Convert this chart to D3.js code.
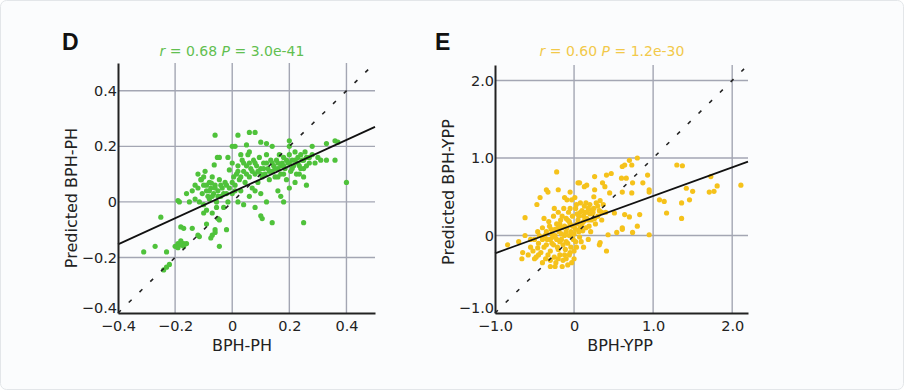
<!DOCTYPE html>
<html>
<head>
<meta charset="utf-8">
<script src="https://cdn.jsdelivr.net/npm/d3@7"></script>
<style>
  body { margin: 0; background: #fff; }
  svg { display: block; font-family: "DejaVu Sans", Arial, sans-serif; }
</style>
</head>
<body>
<div id="chart"></div>
<script>
// panel D: observed vs predicted BPH-PH
var phPoints = [
  [-0.31,-0.18],[-0.27,-0.16],[-0.23,-0.18],[-0.25,-0.055],[-0.23,-0.235],[-0.24,-0.245],[-0.22,-0.225],
  [-0.20,-0.16],[-0.19,-0.15],[-0.19,-0.165],[-0.18,-0.155],[-0.17,-0.15],[-0.16,-0.15],
  [-0.18,-0.09],[-0.17,-0.095],[-0.14,-0.095],[-0.12,-0.12],[-0.115,-0.125],[-0.09,-0.08],[-0.06,-0.1],
  [-0.045,-0.16],[-0.02,-0.1],[-0.05,-0.06],[-0.1,-0.04],[-0.115,0.0],[-0.15,0.0],[-0.185,0.0],[-0.19,0.005],
  [-0.08,0.01],[-0.055,-0.02],[-0.045,-0.065],[-0.06,-0.11],[-0.07,-0.12],[-0.075,-0.13],
  [-0.16,0.03],[-0.14,0.04],[-0.13,0.06],[-0.12,0.05],[-0.11,0.08],[-0.105,0.03],[-0.1,0.06],[-0.09,0.04],
  [-0.085,0.02],[-0.08,0.07],[-0.075,0.05],[-0.07,0.09],[-0.065,0.03],[-0.06,0.06],[-0.055,0.0],[-0.05,0.04],
  [-0.045,0.08],[-0.04,0.02],[-0.035,0.05],[-0.03,-0.02],[-0.025,0.07],[-0.02,0.03],[-0.015,0.0],[-0.01,0.05],
  [-0.1,-0.01],[-0.13,0.01],[-0.09,-0.03],[-0.07,-0.04],[-0.12,0.1],[-0.095,0.11],[-0.108,0.08],[-0.073,0.068],
  [-0.063,0.133],[-0.052,0.16],[-0.045,0.16],[-0.015,0.16],[-0.01,0.115],
  [-0.06,0.24],[0.02,0.24],[0.06,0.25],[0.08,0.25],[0.0,0.2],[0.01,0.2],[0.05,0.205],[0.2,0.22],[0.2,0.2],
  [0.28,0.2],[0.33,0.21],[0.36,0.22],[0.37,0.215],[0.12,0.21],[0.14,0.2],[0.1,0.215],
  [0.0,0.03],[0.01,0.06],[0.015,0.1],[0.02,0.13],[0.025,0.08],[0.03,0.04],[0.035,0.15],[0.04,0.11],
  [0.045,0.07],[0.05,0.13],[0.055,0.17],[0.06,0.09],[0.065,0.12],[0.07,0.05],[0.075,0.15],[0.08,0.1],
  [0.085,0.13],[0.09,0.07],[0.095,0.16],[0.1,0.12],[0.105,0.09],[0.11,0.14],[0.115,0.1],[0.12,0.17],
  [0.125,0.12],[0.13,0.08],[0.135,0.15],[0.14,0.11],[0.145,0.13],[0.15,0.09],[0.0,0.14],[0.005,0.09],
  [0.03,0.17],[0.06,0.18],[0.02,0.0],[0.04,-0.01],[0.06,0.02],[0.08,0.04],[0.1,0.03],[0.12,0.0],
  [0.155,0.15],[0.16,0.12],[0.165,0.17],[0.17,0.1],[0.175,0.14],[0.18,0.16],[0.185,0.12],[0.19,0.08],
  [0.195,0.14],[0.2,0.17],[0.205,0.11],[0.21,0.15],[0.215,0.13],[0.22,0.18],[0.225,0.1],[0.23,0.16],
  [0.235,0.13],[0.24,0.17],[0.245,0.15],[0.25,0.12],[0.255,0.18],[0.26,0.16],[0.27,0.14],[0.28,0.17],
  [0.29,0.14],[0.3,0.16],[0.31,0.15],[0.33,0.15],[0.36,0.15],[0.22,0.07],[0.235,0.1],[0.25,0.09],
  [0.26,0.06],[0.2,0.05],[0.18,0.0],[0.17,0.02],
  [0.4,0.07],[0.25,-0.075],[0.14,-0.075],[0.105,-0.06],[0.16,0.04],[0.08,-0.02],[0.1,-0.05],
  [0.02,0.11],[0.03,0.09],[0.04,0.14],[0.05,0.1],[0.06,0.14],[0.07,0.11],[0.08,0.14],[0.09,0.11],
  [0.1,0.1],[0.11,0.12],[0.12,0.14],[0.13,0.11],[0.14,0.14],[0.15,0.12],[0.16,0.14],[0.17,0.13],
  [0.18,0.13],[0.19,0.15],[0.2,0.14],[0.21,0.12],[0.22,0.15],[0.23,0.14],[0.24,0.12],[0.25,0.15],
  [0.26,0.13],[0.27,0.16],[-0.08,0.04],[-0.07,0.02],[-0.06,0.05],[-0.05,0.02],[-0.04,0.06],[-0.03,0.03],
  [-0.02,0.06],[-0.09,0.06],[-0.1,0.09],[-0.17,-0.16],[-0.18,-0.14],[0.01,0.04],[0.0,0.07],[0.16,0.09],[0.18,0.1]
];

// panel E: observed vs predicted BPH-YPP
var yppPoints = [
  [-0.84,-0.12],[-0.62,0.23],[-0.22,0.82],[-0.47,0.4],[-0.35,0.59],[-0.43,0.49],[-0.12,0.49],[-0.03,0.46],
  [0.05,0.68],[0.16,0.65],[0.26,0.76],[0.36,0.68],[0.47,0.8],[0.61,0.89],[0.7,0.97],[0.73,0.91],[0.8,1.0],
  [0.66,0.74],[0.87,0.68],[0.93,0.78],[0.95,0.59],[1.08,0.46],[1.14,0.44],[1.17,0.29],[1.3,0.91],[1.37,0.9],
  [1.36,0.42],[1.36,0.22],[1.42,0.61],[1.5,0.57],[1.46,0.46],[1.73,0.76],[1.81,0.64],[1.77,0.57],[1.71,0.56],
  [2.11,0.65],[0.95,0.01],[0.74,0.04],[0.61,0.1],[0.41,-0.2],[0.32,-0.12],[-0.24,-0.4],[-0.3,-0.4],
  [0.64,0.91],[0.41,0.78],[0.6,0.74],[0.74,0.68],[0.26,0.59],[0.39,0.63],[0.45,0.55],[0.61,0.56],[0.73,0.55],
  [0.95,0.56],[0.51,0.29],[0.64,0.27],[0.7,0.24],[0.83,0.27],[0.8,0.12],[0.61,0.08],[0.43,0.01],[0.54,0.04],
  [0.33,-0.09],[0.07,0.68],[-0.33,0.56],[-0.2,0.59],[-0.05,0.56],[-0.09,0.46],[0.01,0.49],[0.13,0.63],[-0.46,0.05],
  [-0.58,-0.25],[-0.55,-0.15],[-0.52,-0.2],[-0.5,-0.05],[-0.48,-0.28],[-0.45,-0.1],[-0.44,0.0],[-0.42,-0.22],
  [-0.4,0.1],[-0.38,-0.15],[-0.36,-0.3],[-0.35,0.05],[-0.34,-0.05],[-0.32,0.18],[-0.3,-0.2],[-0.29,0.08],
  [-0.28,-0.1],[-0.26,0.25],[-0.25,-0.28],[-0.24,0.0],[-0.22,0.15],[-0.21,-0.15],[-0.2,0.3],[-0.19,0.05],
  [-0.18,-0.25],[-0.17,0.2],[-0.16,-0.05],[-0.15,0.1],[-0.14,-0.32],[-0.13,0.35],[-0.12,0.0],[-0.11,-0.18],
  [-0.1,0.22],[-0.09,0.1],[-0.08,-0.1],[-0.07,0.3],[-0.06,-0.25],[-0.05,0.15],[-0.04,0.05],[-0.03,-0.35],
  [-0.02,0.25],[-0.01,-0.05],[0.0,0.12],[0.02,0.35],[0.03,-0.15],[0.05,0.2],[0.06,0.05],[0.08,0.3],
  [0.09,-0.08],[0.1,0.15],[0.12,0.25],[0.13,0.38],[0.15,0.1],[0.16,0.3],[0.18,0.2],[0.2,0.4],[0.21,0.05],
  [0.23,0.28],[0.25,0.35],[0.27,0.15],[0.28,0.42],[0.3,0.25],[0.32,0.32],[0.35,0.2],[0.37,0.4],[0.4,0.3],
  [-0.55,-0.05],[-0.5,-0.3],[-0.46,-0.16],[-0.4,-0.35],[-0.37,0.0],[-0.33,-0.25],[-0.31,0.12],[-0.27,-0.02],
  [-0.23,-0.35],[-0.2,0.1],[-0.18,-0.08],[-0.15,0.25],[-0.12,-0.25],[-0.1,0.05],[-0.06,0.18],[-0.03,0.0],
  [0.0,-0.2],[0.02,0.08],[0.04,0.28],[0.07,-0.02],[0.11,0.06],[0.14,0.2],[0.19,0.12],[0.22,0.33],[0.26,0.22],
  [0.3,0.38],[0.12,-0.15],[0.18,-0.05],[0.08,0.42],[-0.65,-0.22],[-0.7,-0.08],[-0.62,0.0],[-0.66,-0.3],
  [-0.08,-0.38],[-0.15,-0.4],[0.0,-0.3],
  [-0.3,-0.05],[-0.28,0.02],[-0.26,-0.12],[-0.24,0.08],[-0.22,-0.05],[-0.2,-0.18],[-0.18,0.15],[-0.16,0.02],
  [-0.14,-0.12],[-0.12,0.12],[-0.1,-0.08],[-0.08,0.2],[-0.06,0.0],[-0.04,-0.15],[-0.02,0.12],[0.0,0.02],
  [0.02,-0.08],[0.04,0.15],[0.06,0.25],[0.08,0.1],[0.1,0.32],[0.12,0.18],[0.14,0.3],[0.16,0.22],[0.18,0.35],
  [0.2,0.28],[0.22,0.2],[0.24,0.3],[-0.35,-0.12],[-0.4,-0.05],[-0.45,-0.25],[-0.3,-0.32],[-0.2,-0.3],
  [-0.1,-0.3],[-0.05,-0.22],[0.03,0.4],[0.15,0.42],[0.33,0.45],[0.25,0.5],[0.35,0.3],[-0.38,0.22],
  [-0.25,0.35],[-0.05,0.35]
];

var phTicks = [-0.4, -0.2, 0, 0.2, 0.4];
var yppTicks = [-1.0, 0, 1.0, 2.0];
var phFit = [0.035, 0.47];   // intercept, slope
var yppFit = [0.14, 0.37];

var panels = [
  {letter: 'D', pts: phPoints, ticks: phTicks, fit: phFit, dom: [-0.4, 0.5], diagEnd: 0.48,
   r: '0.68', p: '3.0e-41', name: 'BPH-PH', color: '#4fc23b', titleColor: '#62bf50',
   x0: 118, x1: 375, y0: 313, y1: 63, titleX: 232, xlabX: 242, ylabY: 198, letterX: 62},
  {letter: 'E', pts: yppPoints, ticks: yppTicks, fit: yppFit, dom: [-1, 2.2], diagEnd: 2.15,
   r: '0.60', p: '1.2e-30', name: 'BPH-YPP', color: '#f5c21b', titleColor: '#f2c94a',
   x0: 495, x1: 748, y0: 313, y1: 65, titleX: 612, xlabX: 620, ylabY: 192, letterX: 435}
];

var W = 904, H = 390;
var svg = d3.select('#chart').append('svg').attr('width', W).attr('height', H);

svg.append('rect').attr('x', 0.5).attr('y', 0.5).attr('width', W - 1).attr('height', H - 1)
  .attr('rx', 6).attr('fill', '#fbfcfd').attr('stroke', '#e3e6e9');

panels.forEach(function(p) {
  var x = d3.scaleLinear().domain(p.dom).range([p.x0, p.x1]);
  var y = d3.scaleLinear().domain(p.dom).range([p.y0, p.y1]);
  var g = svg.append('g');
  var fmt = function(d) { return d === 0 ? '0' : d3.format('.1f')(d); };

  // grid
  var inner = p.ticks.filter(function(t) { return t > p.dom[0]; });
  g.selectAll('.vg').data(inner).enter().append('line')
    .attr('x1', d => x(d)).attr('x2', d => x(d)).attr('y1', p.y0).attr('y2', p.y1)
    .attr('stroke', '#a3a6b3').attr('stroke-width', 1.4);
  g.selectAll('.hg').data(inner).enter().append('line')
    .attr('y1', d => y(d)).attr('y2', d => y(d)).attr('x1', p.x0).attr('x2', p.x1)
    .attr('stroke', '#a3a6b3').attr('stroke-width', 1.4);

  // points
  g.selectAll('circle').data(p.pts).enter().append('circle')
    .attr('cx', d => x(d[0])).attr('cy', d => y(d[1])).attr('r', 2.6)
    .attr('fill', p.color);

  // identity line
  g.append('line')
    .attr('x1', x(p.dom[0])).attr('y1', y(p.dom[0]))
    .attr('x2', x(p.diagEnd)).attr('y2', y(p.diagEnd))
    .attr('stroke', '#222').attr('stroke-width', 1.6).attr('stroke-dasharray', '4,11');

  // regression line
  g.append('line')
    .attr('x1', x(p.dom[0])).attr('y1', y(p.fit[0] + p.fit[1] * p.dom[0]))
    .attr('x2', x(p.dom[1])).attr('y2', y(p.fit[0] + p.fit[1] * p.dom[1]))
    .attr('stroke', '#111').attr('stroke-width', 1.8);

  // axes
  var xAxis = d3.axisBottom(x).tickValues(p.ticks).tickFormat(fmt).tickSize(0).tickPadding(8);
  var yAxis = d3.axisLeft(y).tickValues(p.ticks).tickFormat(fmt).tickSize(0).tickPadding(1);
  var xa = g.append('g').attr('transform', 'translate(0,' + p.y0 + ')').call(xAxis);
  var ya = g.append('g').attr('transform', 'translate(' + p.x0 + ',0)').call(yAxis);
  [xa, ya].forEach(function(a) {
    a.select('.domain').attr('stroke', '#222').attr('stroke-width', 2);
    a.selectAll('text').attr('font-size', 14.5).attr('fill', '#222').attr('font-family', '"DejaVu Sans", Arial, sans-serif');
  });
  // lowest y label sits a little above the x axis, as in the original
  ya.selectAll('.tick text').filter(d => d === p.dom[0]).attr('dy', '-0.05em');

  // titles
  var t = svg.append('text').attr('x', p.titleX).attr('y', 56).attr('text-anchor', 'middle')
    .attr('font-size', 14).attr('fill', p.titleColor);
  t.append('tspan').attr('font-style', 'italic').text('r');
  t.append('tspan').text(' = ' + p.r + ' ');
  t.append('tspan').attr('font-style', 'italic').text('P');
  t.append('tspan').text(' = ' + p.p);

  svg.append('text').attr('x', p.letterX).attr('y', 50).attr('font-size', 23).attr('font-weight', 'bold')
    .attr('font-family', '"Liberation Sans", Arial, sans-serif').attr('fill', '#111').text(p.letter);

  svg.append('text').attr('x', p.xlabX).attr('y', 351).attr('text-anchor', 'middle')
    .attr('font-size', 16).attr('fill', '#222').text(p.name);

  svg.append('text').attr('transform', 'translate(' + (p.x0 - 41) + ',' + p.ylabY + ') rotate(-90)')
    .attr('text-anchor', 'middle').attr('font-size', 16).attr('fill', '#222').text('Predicted ' + p.name);
});
</script>
</body>
</html>
